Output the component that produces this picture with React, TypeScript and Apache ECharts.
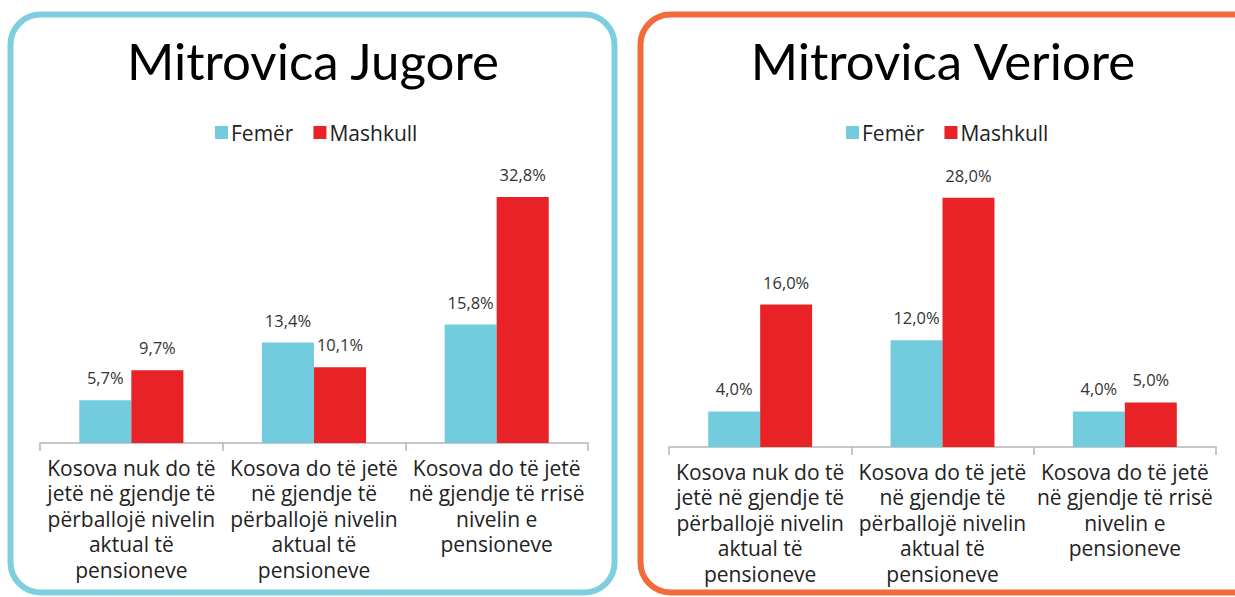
import React, { useEffect, useRef } from "react";
import * as echarts from "echarts";

const categories = [
  "Kosova nuk do të\njetë në gjendje të\npërballojë nivelin\naktual të\npensioneve",
  "Kosova do të jetë\nnë gjendje të\npërballojë nivelin\naktual të\npensioneve",
  "Kosova do të jetë\nnë gjendje të rrisë\nnivelin e\npensioneve",
];
const seriesNames = ["Femër", "Mashkull"];
const jugoreFemer = [5.7, 13.4, 15.8];
const jugoreMashkull = [9.7, 10.1, 32.8];
const veriorFemer = [4.0, 12.0, 4.0];
const veriorMashkull = [16.0, 28.0, 5.0];
const titles = ["Mitrovica Jugore", "Mitrovica Veriore"];

const FONT_T = "Lato, sans-serif";
const FONT = "'Open Sans', Lato, sans-serif";
const C_F = "#72CCDE";
const C_M = "#E82226";

export default function App() {
  const ref = useRef<HTMLDivElement>(null);
  useEffect(() => {
    if (!ref.current) return;
    const chart = echarts.init(ref.current, null, { renderer: "svg" });
    const fmt = (p: any) => p.value.toFixed(1).replace(".", ",") + "%";
    const label = {
      show: true,
      position: "top",
      distance: 14,
      formatter: fmt,
      fontFamily: FONT,
      fontSize: 16.5,
      color: "#333",
    };
    const xAxis = (gi: number) => ({
      type: "category",
      gridIndex: gi,
      data: categories,
      axisLine: { lineStyle: { color: "#b5b5b5", width: 1.5 } },
      axisTick: { show: true, length: 8, lineStyle: { color: "#b5b5b5", width: 1.5 } },
      axisLabel: {
        interval: 0,
        margin: 12,
        fontFamily: FONT,
        fontSize: 21,
        lineHeight: 25.5,
        color: "#222",
      },
    });
    const yAxis = (gi: number, max: number) => ({
      type: "value",
      gridIndex: gi,
      min: 0,
      max,
      show: false,
      splitLine: { show: false },
    });
    const bar = (name: string, data: number[], color: string, idx: number) => ({
      type: "bar",
      name,
      data,
      xAxisIndex: idx,
      yAxisIndex: idx,
      barGap: "0%",
      barCategoryGap: "43%",
      itemStyle: { color },
      label,
    });
    const legend = (left: number) => ({
      data: seriesNames,
      left,
      top: 117,
      itemWidth: 13,
      itemHeight: 13,
      itemGap: 20,
      icon: "rect",
      textStyle: { fontFamily: FONT, fontSize: 21, color: "#222", padding: [0, 0, 0, -2] },
    });
    chart.setOption({
      animation: false,
      graphic: [
        {
          type: "rect",
          shape: { x: 10.5, y: 14.5, width: 604, height: 578, r: 30 },
          style: { fill: "none", stroke: "#7ECFDD", lineWidth: 6 },
        },
        {
          type: "rect",
          shape: { x: 640.5, y: 14.5, width: 640, height: 578, r: 30 },
          style: { fill: "none", stroke: "#F26B3A", lineWidth: 6 },
        },
      ],
      title: [
        {
          text: titles[0],
          left: 308,
          textAlign: "center",
          top: 30,
          textStyle: { fontFamily: FONT_T, fontSize: 51, fontWeight: "normal", color: "#000" },
        },
        {
          text: titles[1],
          left: 938,
          textAlign: "center",
          top: 30,
          textStyle: { fontFamily: FONT_T, fontSize: 51, fontWeight: "normal", color: "#000" },
        },
      ],
      legend: [legend(210), legend(841)],
      grid: [
        { left: 40, width: 548, top: 143, height: 300 },
        { left: 669, width: 547, top: 162, height: 285 },
      ],
      xAxis: [xAxis(0), xAxis(1)],
      yAxis: [yAxis(0, 40), yAxis(1, 32)],
      series: [
        bar(seriesNames[0], jugoreFemer, C_F, 0),
        bar(seriesNames[1], jugoreMashkull, C_M, 0),
        bar(seriesNames[0], veriorFemer, C_F, 1),
        bar(seriesNames[1], veriorMashkull, C_M, 1),
      ],
    });
    return () => chart.dispose();
  }, []);
  return (
    <div
      ref={ref}
      style={{ position: "fixed", left: 0, top: 0, width: 1235, height: 597, background: "#fff" }}
    />
  );
}
